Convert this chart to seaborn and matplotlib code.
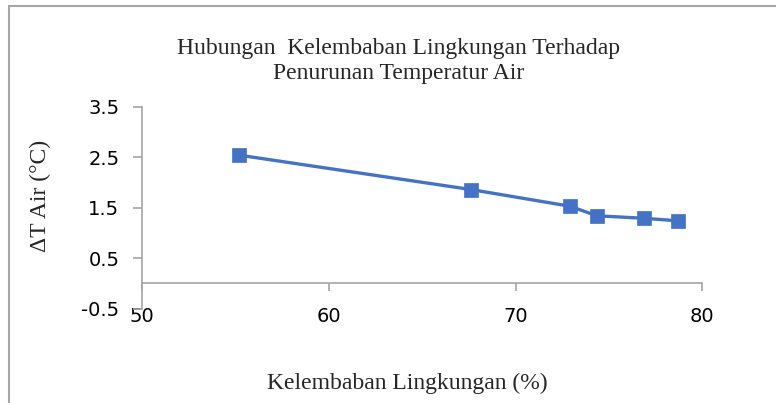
import matplotlib
matplotlib.use("Agg")
import matplotlib.pyplot as plt
import pandas as pd
import seaborn as sns
from matplotlib.patches import Rectangle

# data
kelembaban = [55.2, 67.6, 72.9, 74.35, 76.9, 78.7]
delta_t = [2.54, 1.86, 1.53, 1.34, 1.29, 1.24]
x_ticks = [50, 60, 70, 80]
y_ticks = [-0.5, 0.5, 1.5, 2.5, 3.5]

df = pd.DataFrame({"kelembaban": kelembaban, "delta_t": delta_t})

sns.set_style("white")
plt.rcParams["font.family"] = ["DejaVu Sans"]

blue = "#4472C4"
grey = "#A6A6A6"
serif = "Liberation Serif"

fig = plt.figure(figsize=(7.76, 4.03), dpi=100)
ax = fig.add_axes([0.1834, 0.234, 0.7217, 0.5012])

sns.lineplot(
    data=df, x="kelembaban", y="delta_t", ax=ax,
    color=blue, linewidth=2.4, marker="s", markersize=10,
    markeredgecolor=blue, markeredgewidth=0.5,
)

ax.set_xlim(50, 80)
ax.set_ylim(-0.5, 3.5)
ax.set_xticks(x_ticks)
ax.set_yticks(y_ticks)
ax.set_yticklabels([f"{v:g}" for v in y_ticks])

# Excel style axes: x axis crosses at 0, labels kept low
for s in ["top", "right"]:
    ax.spines[s].set_visible(False)
ax.spines["bottom"].set_position(("data", 0))
for s in ["left", "bottom"]:
    ax.spines[s].set_color(grey)
    ax.spines[s].set_linewidth(1.2)
ax.tick_params(axis="y", direction="out", length=6.5, width=1.2, color=grey,
               pad=10, labelsize=14, labelcolor="black", left=True)
ax.tick_params(axis="x", direction="out", length=6, width=1.2, color=grey,
               pad=11, labelsize=14, labelcolor="black", bottom=True)

ax.set_xlabel("Kelembaban Lingkungan (%)", family=serif, fontsize=17,
              va="center", ha="center")
ax.xaxis.set_label_coords(0.4727, -0.368)
ax.set_ylabel("ΔT Air (°C)", family=serif, fontsize=17,
              va="center", ha="center")
ax.yaxis.set_label_coords(-0.181, 0.558)

fig.text(0.514, 0.848,
         "Hubungan  Kelembaban Lingkungan Terhadap\nPenurunan Temperatur Air",
         family=serif, fontsize=17, ha="center", va="center", linespacing=1.25)

# chart area border (right and bottom are cut off in the original)
fig.patches.append(Rectangle((9, 397 - 500), 900, 500, transform=None,
                             fill=False, edgecolor=grey, linewidth=1.5))

fig.savefig("out.png", dpi=100)
